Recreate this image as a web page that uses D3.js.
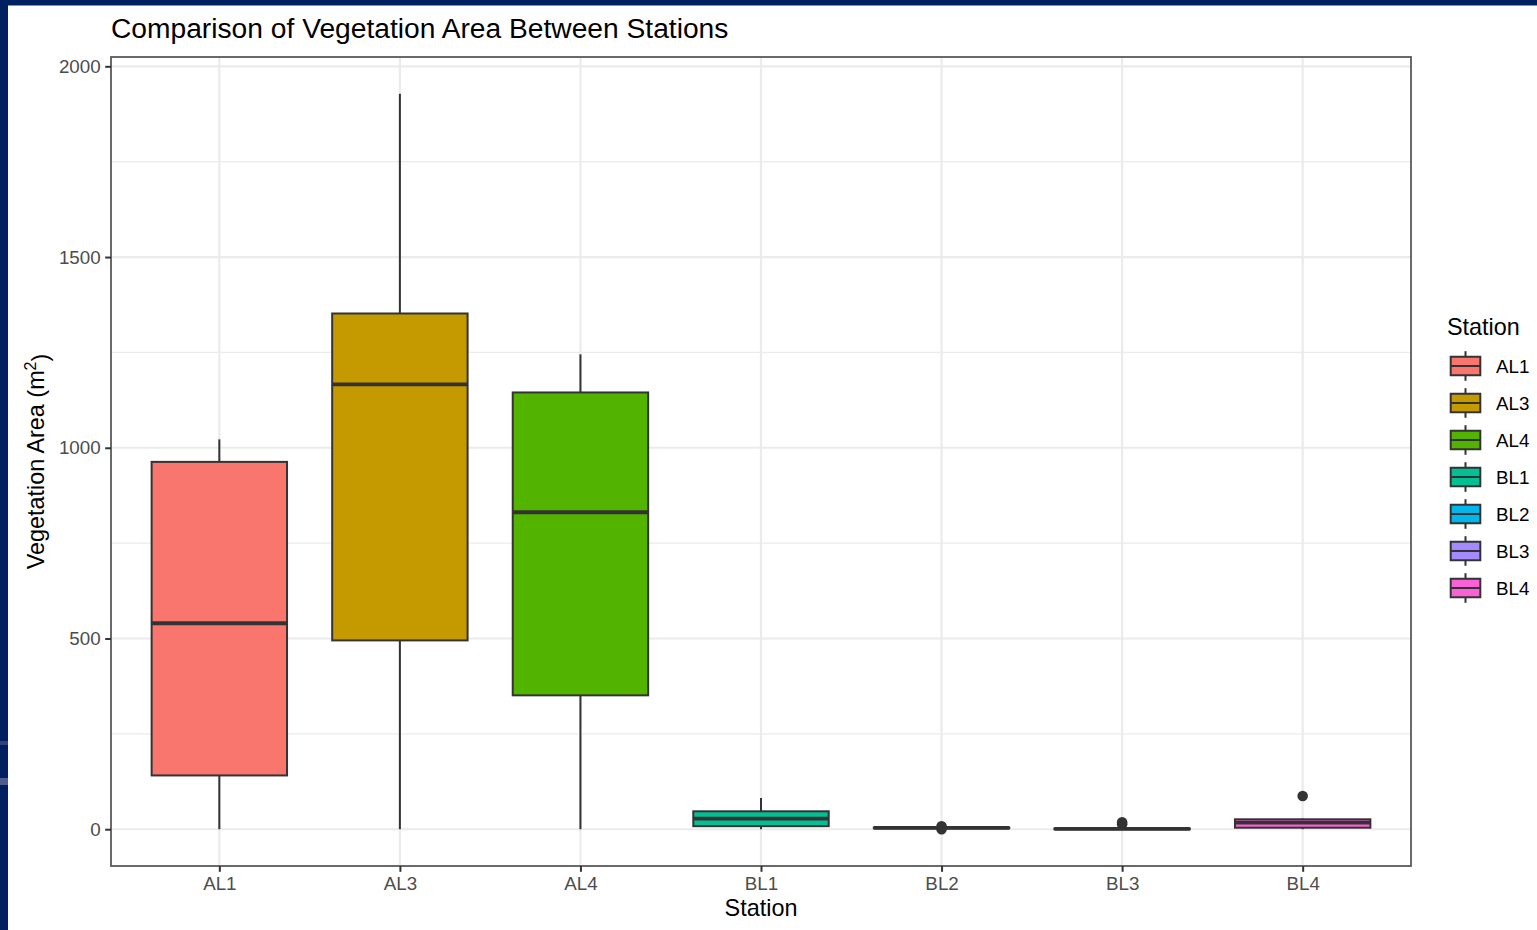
<!DOCTYPE html>
<html>
<head>
<meta charset="utf-8">
<script src="https://cdn.jsdelivr.net/npm/d3@7"></script>
<style>
  html, body { margin: 0; padding: 0; background: #ffffff; }
  svg { display: block; }
  text { font-family: "Liberation Sans", Arial, Helvetica, sans-serif; }
</style>
</head>
<body>
<svg id="chart" width="1537" height="930"></svg>
<script>
// Station box summaries (vegetation area, m^2)
const stations      = ["AL1", "AL3", "AL4", "BL1", "BL2", "BL3", "BL4"];
const whiskerLow    = [0,    0,    0,    0,  1.5, 0,  0];
const quartile1     = [141,  495,  351,  8,  2.5, 0,  4];
const medians       = [540,  1166, 831,  28, 3.5, 1,  17.5];
const quartile3     = [963,  1352, 1145, 47, 4.5, 2,  26];
const whiskerHigh   = [1022, 1928, 1245, 82, 6,   4,  28];
const outliers      = [[], [], [], [], [0, 8], [13, 18], [87]];
const fillColors    = ["#F8766D", "#C49A00", "#53B400", "#00C094", "#00B6EB", "#A58AFF", "#FB61D7"];
const yTicks        = [0, 500, 1000, 1500, 2000];
const yMinorTicks   = [250, 750, 1250, 1750];

const svg = d3.select("#chart");
const W = 1537, H = 930;

// slide frame
svg.append("rect").attr("x", 0).attr("y", 0).attr("width", W).attr("height", 5.5).attr("fill", "#00205f");
svg.append("rect").attr("x", 0).attr("y", 0).attr("width", 8).attr("height", H).attr("fill", "#00205f");
svg.append("rect").attr("x", 0).attr("y", 741).attr("width", 8).attr("height", 4).attr("fill", "#2e4478");
svg.append("rect").attr("x", 0).attr("y", 778).attr("width", 8).attr("height", 7).attr("fill", "#4d5f8c");

const panel = { left: 111, right: 1411, top: 57, bottom: 866 };

const x = d3.scalePoint()
  .domain(stations)
  .range([panel.left, panel.right])
  .padding(0.6);

const allValues = whiskerLow.concat(whiskerHigh, outliers.flat());
const [lo, hi] = d3.extent(allValues);
const pad = (hi - lo) * 0.05;
const y = d3.scaleLinear()
  .domain([lo - pad, hi + pad])
  .range([panel.bottom, panel.top]);

const boxW = x.step() * 0.75;
const grid = "#EBEBEB";
const ink = "#333333";

// gridlines
const g = svg.append("g");
g.selectAll(".minor").data(yMinorTicks).join("line")
  .attr("x1", panel.left).attr("x2", panel.right)
  .attr("y1", d => y(d)).attr("y2", d => y(d))
  .attr("stroke", grid).attr("stroke-width", 1.1);
g.selectAll(".majorY").data(yTicks).join("line")
  .attr("x1", panel.left).attr("x2", panel.right)
  .attr("y1", d => y(d)).attr("y2", d => y(d))
  .attr("stroke", grid).attr("stroke-width", 2.2);
g.selectAll(".majorX").data(stations).join("line")
  .attr("x1", d => x(d)).attr("x2", d => x(d))
  .attr("y1", panel.top).attr("y2", panel.bottom)
  .attr("stroke", grid).attr("stroke-width", 2.2);

// boxes
const boxes = svg.append("g").selectAll("g").data(stations).join("g");
boxes.append("line")
  .attr("x1", d => x(d)).attr("x2", d => x(d))
  .attr("y1", (d, i) => y(whiskerHigh[i])).attr("y2", (d, i) => y(quartile3[i]))
  .attr("stroke", ink).attr("stroke-width", 2);
boxes.append("line")
  .attr("x1", d => x(d)).attr("x2", d => x(d))
  .attr("y1", (d, i) => y(quartile1[i])).attr("y2", (d, i) => y(whiskerLow[i]))
  .attr("stroke", ink).attr("stroke-width", 2);
boxes.append("rect")
  .attr("x", d => x(d) - boxW / 2).attr("width", boxW)
  .attr("y", (d, i) => y(quartile3[i]))
  .attr("height", (d, i) => Math.max(0, y(quartile1[i]) - y(quartile3[i])))
  .attr("fill", (d, i) => fillColors[i])
  .attr("stroke", ink).attr("stroke-width", 2);
boxes.append("line")
  .attr("x1", d => x(d) - boxW / 2).attr("x2", d => x(d) + boxW / 2)
  .attr("y1", (d, i) => y(medians[i])).attr("y2", (d, i) => y(medians[i]))
  .attr("stroke", ink).attr("stroke-width", 3.8);
boxes.each(function (d, i) {
  d3.select(this).selectAll("circle").data(outliers[i]).join("circle")
    .attr("cx", x(d)).attr("cy", v => y(v)).attr("r", 5.3)
    .attr("fill", ink);
});

// panel border
svg.append("rect")
  .attr("x", panel.left).attr("y", panel.top)
  .attr("width", panel.right - panel.left).attr("height", panel.bottom - panel.top)
  .attr("fill", "none").attr("stroke", "#5a5a5a").attr("stroke-width", 1.8);

// axes
const xAxis = svg.append("g")
  .attr("transform", `translate(0,${panel.bottom})`)
  .call(d3.axisBottom(x).tickSize(5.8).tickPadding(4.5));
const yAxis = svg.append("g")
  .attr("transform", `translate(${panel.left},0)`)
  .call(d3.axisLeft(y).tickValues(yTicks).tickFormat(d3.format("d")).tickSize(5.8).tickPadding(4.5));
[xAxis, yAxis].forEach(a => {
  a.select(".domain").remove();
  a.selectAll(".tick line").attr("stroke", ink).attr("stroke-width", 2);
  a.selectAll(".tick text")
    .attr("fill", "#4D4D4D")
    .style("font-size", "18.8px")
    .style("font-family", "'Liberation Sans', Arial, sans-serif");
});

// titles
svg.append("text")
  .attr("x", panel.left).attr("y", 37.5)
  .attr("fill", "#000").style("font-size", "28.2px")
  .text("Comparison of Vegetation Area Between Stations");

svg.append("text")
  .attr("x", (panel.left + panel.right) / 2).attr("y", 916)
  .attr("text-anchor", "middle").attr("fill", "#000").style("font-size", "23.4px")
  .text("Station");

const yTitle = svg.append("text")
  .attr("transform", `translate(44,${(panel.top + panel.bottom) / 2}) rotate(-90)`)
  .attr("text-anchor", "middle").attr("fill", "#000").style("font-size", "23.4px");
yTitle.append("tspan").text("Vegetation Area (m");
yTitle.append("tspan").attr("dy", "-0.5em").style("font-size", "16px").text("2");
yTitle.append("tspan").attr("dy", "0.5em").text(")");

// legend
const key = 37;
const legend = svg.append("g").attr("transform", "translate(1447,0)");
legend.append("text")
  .attr("x", 0).attr("y", 335)
  .attr("fill", "#000").style("font-size", "23.4px")
  .text("Station");
const items = legend.selectAll(".item").data(stations).join("g")
  .attr("transform", (d, i) => `translate(0,${347.5 + i * key})`);
items.append("line")
  .attr("x1", key / 2).attr("x2", key / 2).attr("y1", key * 0.1).attr("y2", key * 0.9)
  .attr("stroke", ink).attr("stroke-width", 2);
items.append("rect")
  .attr("x", key * 0.1).attr("y", key * 0.25).attr("width", key * 0.8).attr("height", key * 0.5)
  .attr("fill", (d, i) => fillColors[i]).attr("stroke", ink).attr("stroke-width", 2);
items.append("line")
  .attr("x1", key * 0.1).attr("x2", key * 0.9).attr("y1", key / 2).attr("y2", key / 2)
  .attr("stroke", ink).attr("stroke-width", 2);
items.append("text")
  .attr("x", key + 12).attr("y", key / 2).attr("dy", "0.35em")
  .attr("fill", "#000").style("font-size", "18.8px")
  .text(d => d);
</script>
</body>
</html>
